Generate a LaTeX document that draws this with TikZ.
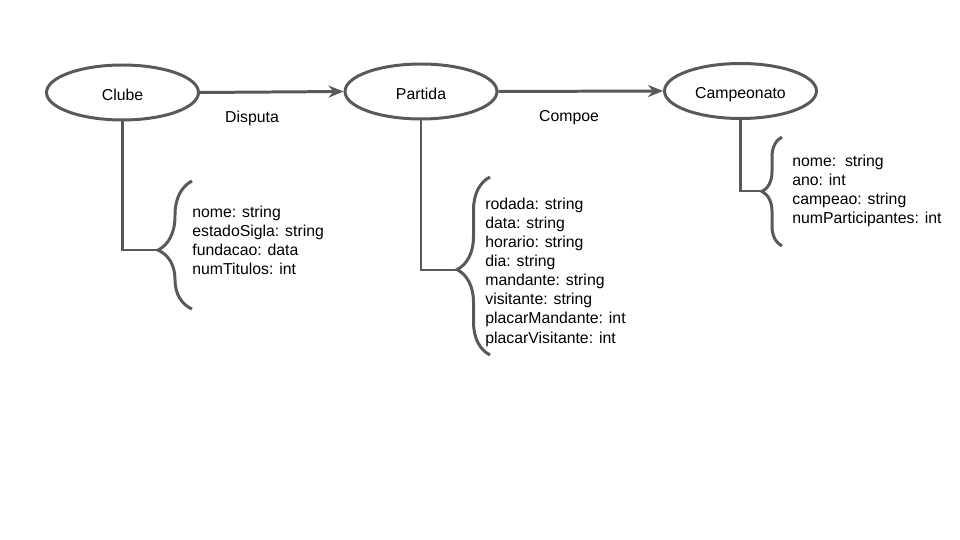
\documentclass[tikz,border=0pt]{standalone}
\usepackage{fontspec}
\setmainfont{Liberation Sans}
\usetikzlibrary{shapes.geometric,arrows.meta,decorations.pathreplacing}
\definecolor{linegray}{RGB}{89,89,89}
\begin{document}
\begin{tikzpicture}[x=0.02cm,y=-0.02cm,
        every node/.style={font=\fontsize{9}{10.9}\selectfont},
        entity/.style={ellipse,draw=linegray,line width=1.7pt,minimum width=3.04cm,minimum height=1.1cm,inner sep=0pt,text height=0.9em,text depth=0em},
        link/.style={draw=linegray,line width=1.7pt},
        attrs/.style={anchor=west,align=left,inner sep=0pt},
        curly/.style={link,decorate,decoration={brace,amplitude=#1}}]
        \useasboundingbox (0,0) rectangle (960,540);
        \node[entity] (clube) at (122.5,92.5) {Clube};
        \node[entity] (partida) at (421,91.5) {Partida};
        \node[entity] (campeonato) at (740.5,91) {Campeonato};
        \draw[link,-{Stealth[length=0.3cm,width=0.24cm,inset=0.1cm]}] (clube.east) -- (partida.west);
        \draw[link,-{Stealth[length=0.3cm,width=0.24cm,inset=0.1cm]}] (partida.east) -- (campeonato.west);
        \node (disputa) at (252,118) {Disputa};
        \node (compoe) at (569,118) {Compoe};
        % attributes
        \coordinate (clubeTip) at (158,250);
        \coordinate (partidaTip) at (457,270);
        \coordinate (campeonatoTip) at (762,191);
        \draw[link] (clube.south) |- (clubeTip);
        \draw[link] (partida.south) |- (partidaTip);
        \draw[link] (campeonato.south) |- (campeonatoTip);
        \draw[curly=0.68cm,decoration={aspect=0.46}] (192,309) -- (192,181);
        \draw[curly=0.66cm,decoration={aspect=0.48}] (490,355) -- (490,177);
        \draw[curly=0.4cm,decoration={aspect=0.5}] (782,246) -- (782,137);
        \node[attrs] (clubeAttrs) at (192,240.5) {nome: string\\estadoSigla: string\\fundacao: data\\numTitulos: int};
        \node[attrs] (partidaAttrs) at (485,272) {rodada: string\\data: string\\horario: string\\dia: string\\mandante: string\\visitante: string\\placarMandante: int\\placarVisitante: int};
        \node[attrs] (campeonatoAttrs) at (792,191) {nome:\ \ string\\ano: int\\campeao: string\\numParticipantes: int};
\end{tikzpicture}
\end{document}
